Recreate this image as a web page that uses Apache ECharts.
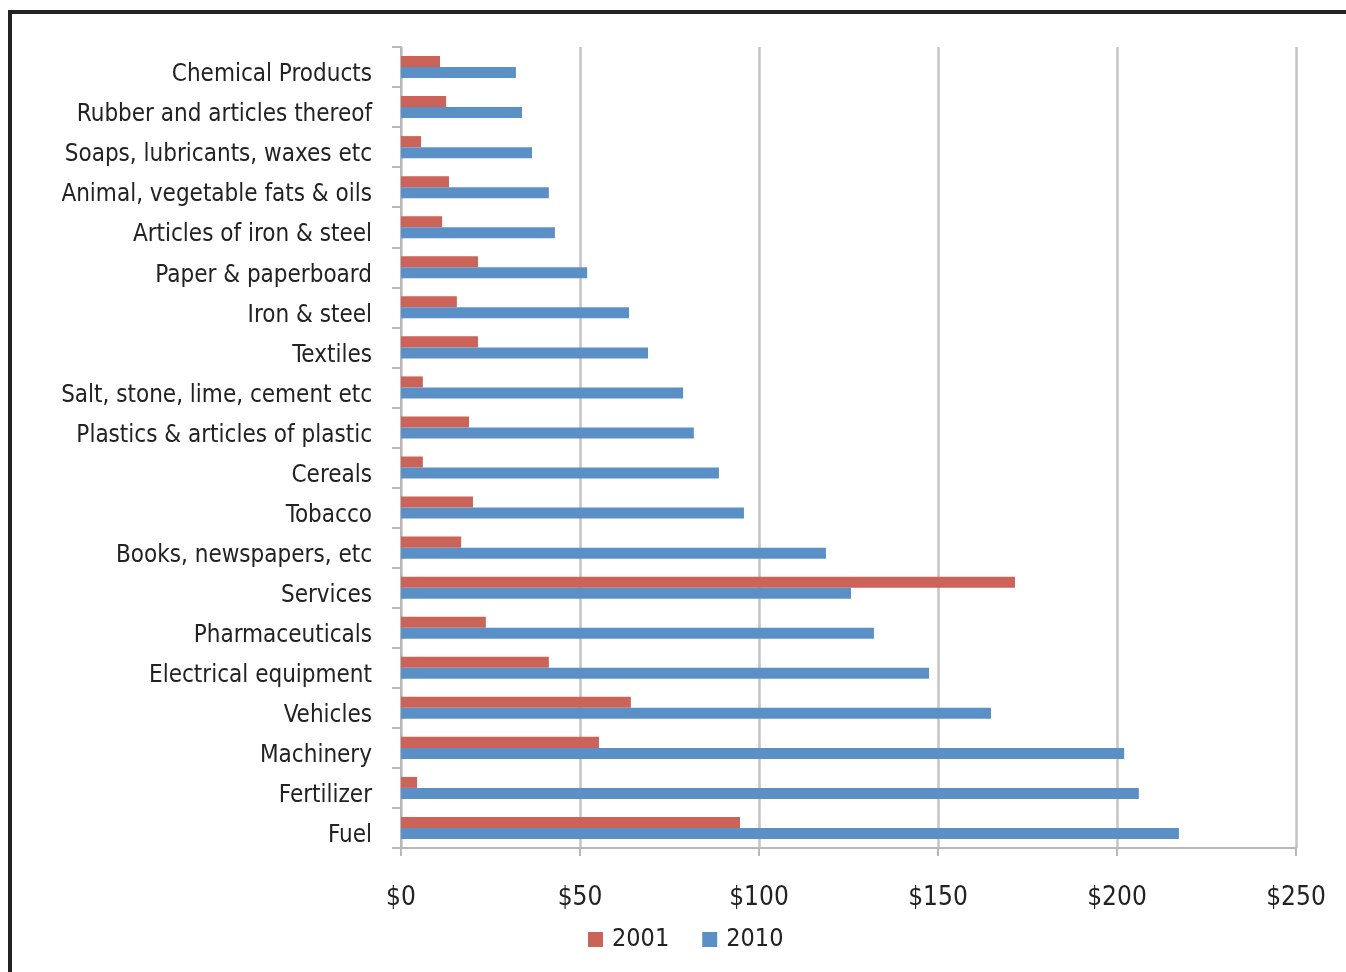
<!DOCTYPE html>
<html>
<head>
<meta charset="utf-8">
<script src="https://cdn.jsdelivr.net/npm/echarts@6/dist/echarts.min.js"></script>
<style>
html,body{margin:0;padding:0;background:#fff;}
#chart{width:1346px;height:972px;}
</style>
</head>
<body>
<div id="chart"></div>
<script>
const categories = [
  "Chemical Products",
  "Rubber and articles thereof",
  "Soaps, lubricants, waxes etc",
  "Animal, vegetable fats & oils",
  "Articles of iron & steel",
  "Paper & paperboard",
  "Iron & steel",
  "Textiles",
  "Salt, stone, lime, cement etc",
  "Plastics & articles of plastic",
  "Cereals",
  "Tobacco",
  "Books, newspapers, etc",
  "Services",
  "Pharmaceuticals",
  "Electrical equipment",
  "Vehicles",
  "Machinery",
  "Fertilizer",
  "Fuel"
];
const values2001 = [10.9, 12.6, 5.6, 13.4, 11.5, 21.5, 15.6, 21.5, 6.1, 19.0, 6.1, 20.1, 16.8, 171.5, 23.7, 41.3, 64.2, 55.3, 4.5, 94.7];
const values2010 = [32.1, 33.8, 36.6, 41.3, 43.0, 52.0, 63.7, 69.0, 78.8, 81.8, 88.8, 95.8, 118.7, 125.7, 132.1, 147.5, 164.8, 202.0, 206.1, 217.3];
const seriesNames = ["2001", "2010"];

const FONT = '"Liberation Sans Narrow", "DejaVu Sans Condensed", "Liberation Sans", sans-serif';
const chart = echarts.init(document.getElementById('chart'), null, {renderer: 'canvas'});
chart.setOption({
  animation: false,
  backgroundColor: '#fff',
  textStyle: {fontFamily: FONT},
  grid: {left: 401, right: 50, top: 47, bottom: 124, containLabel: false},
  legend: {
    data: seriesNames,
    top: 922,
    left: 583,
    itemWidth: 15,
    itemHeight: 15,
    itemGap: 33,
    icon: 'rect',
    textStyle: {fontFamily: FONT, fontSize: 25, color: '#222', padding: [2, 0, 0, 4]}
  },
  xAxis: {
    type: 'value',
    min: 0,
    max: 250,
    interval: 50,
    axisLine: {show: true, lineStyle: {color: '#b8b8b8', width: 2}},
    axisTick: {show: true, length: 8, lineStyle: {color: '#b8b8b8', width: 2}},
    splitLine: {show: true, lineStyle: {color: '#c4c4c4', width: 2.5}},
    axisLabel: {
      margin: 37,
      fontFamily: FONT,
      fontSize: 26,
      color: '#222',
      formatter: v => '$' + v
    }
  },
  yAxis: {
    type: 'category',
    inverse: true,
    data: categories,
    axisLine: {show: true, lineStyle: {color: '#b8b8b8', width: 2}},
    axisTick: {show: true, length: 9, lineStyle: {color: '#b8b8b8', width: 2}},
    axisLabel: {
      margin: 29,
      color: '#222',
      formatter: v => '{a|' + v + '}',
      rich: {a: {fontFamily: FONT, fontSize: 24, color: '#222', padding: [16, 0, 0, 0]}}
    }
  },
  series: [
    {
      name: seriesNames[0],
      type: 'bar',
      data: values2001,
      barGap: '0%',
      barCategoryGap: '45%',
      itemStyle: {color: '#CB6359'}
    },
    {
      name: seriesNames[1],
      type: 'bar',
      data: values2010,
      barGap: '0%',
      barCategoryGap: '45%',
      itemStyle: {color: '#5B90C6'}
    }
  ],
  graphic: [
    {type: 'line', shape: {x1: 8, y1: 12, x2: 1346, y2: 12}, style: {stroke: '#222', lineWidth: 4}},
    {type: 'line', shape: {x1: 10, y1: 10, x2: 10, y2: 972}, style: {stroke: '#222', lineWidth: 4}}
  ]
});
</script>
</body>
</html>
